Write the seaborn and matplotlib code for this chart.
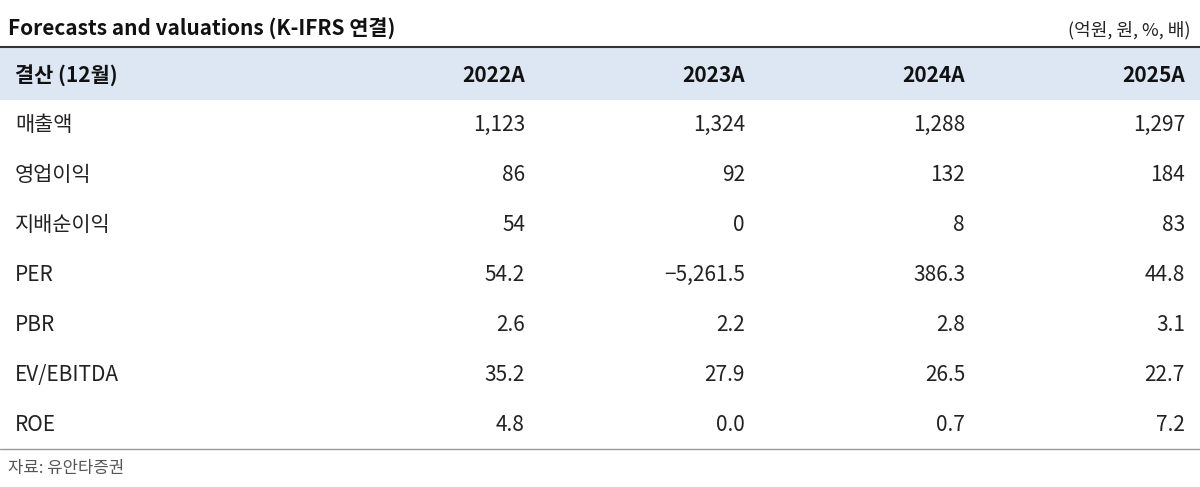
import matplotlib.pyplot as plt
import seaborn as sns

sns.set_style("white")
plt.rcParams['font.family'] = ['Noto Sans CJK KR', 'DejaVu Sans']

title = "Forecasts and valuations (K-IFRS 연결)"
units = "(억원, 원, %, 배)"
header = "결산 (12월)"
years = ["2022A", "2023A", "2024A", "2025A"]
row_labels = ["매출액", "영업이익", "지배순이익", "PER", "PBR", "EV/EBITDA", "ROE"]
rows = [
    ["1,123", "1,324", "1,288", "1,297"],
    ["86", "92", "132", "184"],
    ["54", "0", "8", "83"],
    ["54.2", "-5,261.5", "386.3", "44.8"],
    ["2.6", "2.2", "2.8", "3.1"],
    ["35.2", "27.9", "26.5", "22.7"],
    ["4.8", "0.0", "0.7", "7.2"],
]
source = "자료: 유안타증권"

fig = plt.figure(figsize=(12, 4.87), dpi=100)
ax = fig.add_axes([0, 0, 1, 1])
ax.set_xlim(0, 1200)
ax.set_ylim(487, 0)
ax.axis("off")

col_x = [525, 745, 965, 1185]

ax.text(8, 28, title, fontsize=15, fontweight="bold", va="center", ha="left", color="#111111")
ax.text(1190, 30, units, fontsize=13, va="center", ha="right", color="#222222")
ax.axhline(47, xmin=0, xmax=1, color="#333333", lw=1.5)
ax.axhspan(48, 100, color="#dde7f3", lw=0)
ax.text(15, 75, header, fontsize=15, fontweight="bold", va="center", ha="left", color="#111111")
for x, y in zip(col_x, years):
    ax.text(x, 75, y, fontsize=15, fontweight="bold", va="center", ha="right", color="#111111")

for i, (lab, vals) in enumerate(zip(row_labels, rows)):
    y = 125 + i * 50
    ax.text(15, y, lab, fontsize=15, va="center", ha="left", color="#222222")
    for x, v in zip(col_x, vals):
        ax.text(x, y, v.replace("-", "−"), fontsize=15, va="center", ha="right", color="#222222")

ax.axhline(449, color="#999999", lw=1)
ax.text(8, 469, source, fontsize=12, va="center", ha="left", color="#555555")

fig.savefig("out.png", dpi=100)
